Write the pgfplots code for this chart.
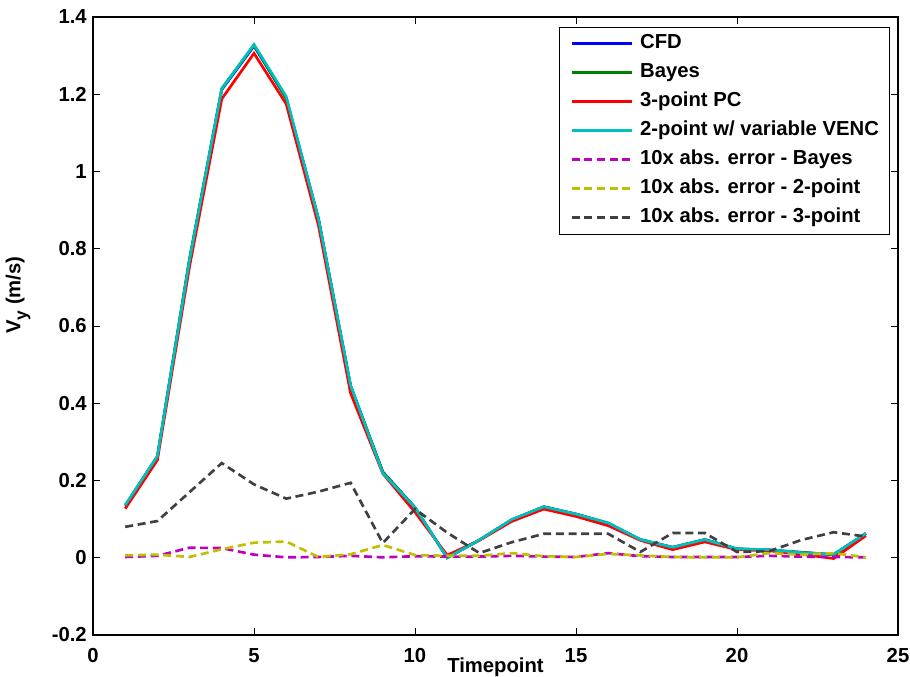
\documentclass[border=0pt]{standalone}
\usepackage{fontspec}
\setmainfont{Liberation Sans}
\usepackage{pgfplots}
\pgfplotsset{compat=1.18}
\definecolor{mblue}{rgb}{0,0,1}
\definecolor{mgreen}{rgb}{0,0.5,0}
\definecolor{mred}{rgb}{1,0,0}
\definecolor{mcyan}{rgb}{0,0.75,0.75}
\definecolor{mmag}{rgb}{0.75,0,0.75}
\definecolor{myel}{rgb}{0.75,0.75,0}
\definecolor{mgray}{rgb}{0.25,0.25,0.25}
\begin{document}
\begin{tikzpicture}
\begin{axis}[
  scale only axis,
  width=603.75pt, height=463.5pt,
  xmin=0, xmax=25, ymin=-0.2, ymax=1.4,
  xtick={0,5,10,15,20,25},
  ytick={-0.2,0,0.2,0.4,0.6,0.8,1,1.2,1.4},
  tick align=inside,
  major tick length=5.5pt,
  tick style={black, line width=0.5pt},
  axis line style={black, line width=1.2pt},
  font=\fontsize{15.2}{18}\selectfont\bfseries,
  /pgf/number format/assume math mode=true,
  xticklabel style={anchor=north, inner sep=0pt, yshift=-9.75pt},
  yticklabel style={anchor=east, inner sep=0pt, xshift=-4.5pt},
  xlabel={Timepoint},
  xlabel style={at={(axis description cs:0.5,0)}, anchor=north, inner sep=0pt, yshift=-17.25pt},
  ylabel={V\raisebox{-0.6ex}{\fontsize{13}{13}\selectfont y} (m/s)},
  ylabel style={at={(axis description cs:-0.093,0.55)}, anchor=center, rotate=0},
  legend cell align=left,
  legend style={at={(axis description cs:0.990,0.984)}, anchor=north east,
    draw=black, line width=0.6pt, inner xsep=8pt, inner ysep=5pt,
    font=\fontsize{15.2}{18}\selectfont\bfseries,
    nodes={inner sep=0pt, text height=11pt, text depth=3.5pt},
    row sep=7.25pt, column sep=5.25pt},
  legend image code/.code={\draw[#1] (0pt,0pt) -- (45pt,0pt);},
  every axis plot/.append style={line width=2pt},
]
\coordinate (SW) at (rel axis cs:0,0);
\coordinate (NE) at (rel axis cs:1,1);
% CFD
\addplot[mblue] coordinates {
(1,0.135) (2,0.262) (3,0.772) (4,1.212) (5,1.325) (6,1.190) (7,0.878) (8,0.445)
(9,0.222) (10,0.130) (11,0.000) (12,0.046) (13,0.098) (14,0.132) (15,0.113) (16,0.089)
(17,0.047) (18,0.027) (19,0.047) (20,0.023) (21,0.020) (22,0.014) (23,0.008) (24,0.063)};
% Bayes
\addplot[mgreen] coordinates {
(1,0.135) (2,0.263) (3,0.775) (4,1.215) (5,1.327) (6,1.190) (7,0.878) (8,0.445)
(9,0.222) (10,0.130) (11,0.000) (12,0.046) (13,0.098) (14,0.132) (15,0.113) (16,0.090)
(17,0.047) (18,0.027) (19,0.047) (20,0.023) (21,0.020) (22,0.014) (23,0.008) (24,0.063)};
% 3-point PC
\addplot[mred] coordinates {
(1,0.127) (2,0.253) (3,0.755) (4,1.188) (5,1.306) (6,1.175) (7,0.861) (8,0.426)
(9,0.218) (10,0.118) (11,0.0065) (12,0.045) (13,0.094) (14,0.126) (15,0.107) (16,0.083)
(17,0.045) (18,0.021) (19,0.041) (20,0.021) (21,0.018) (22,0.009) (23,-0.002) (24,0.057)};
% 2-point w/ variable VENC
\addplot[mcyan] coordinates {
(1,0.136) (2,0.263) (3,0.772) (4,1.214) (5,1.329) (6,1.194) (7,0.878) (8,0.446)
(9,0.219) (10,0.130) (11,0.000) (12,0.046) (13,0.099) (14,0.132) (15,0.113) (16,0.090)
(17,0.047) (18,0.027) (19,0.047) (20,0.023) (21,0.021) (22,0.013) (23,0.009) (24,0.063)};
% 10x abs error Bayes
\addplot[mmag, dash pattern=on 6pt off 3.5pt] coordinates {
(1,0.002) (2,0.005) (3,0.026) (4,0.025) (5,0.008) (6,0.001) (7,0.002) (8,0.005)
(9,0.001) (10,0.004) (11,0.003) (12,0.003) (13,0.005) (14,0.003) (15,0.002) (16,0.012)
(17,0.004) (18,0.002) (19,0.002) (20,0.002) (21,0.005) (22,0.003) (23,0.002) (24,0.001)};
% 10x abs error 2-point
\addplot[myel, dash pattern=on 6pt off 3.5pt] coordinates {
(1,0.006) (2,0.008) (3,0.002) (4,0.022) (5,0.039) (6,0.042) (7,0.002) (8,0.009)
(9,0.033) (10,0.007) (11,0.005) (12,0.005) (13,0.012) (14,0.004) (15,0.002) (16,0.010)
(17,0.006) (18,0.002) (19,0.001) (20,0.001) (21,0.012) (22,0.008) (23,0.012) (24,0.001)};
% 10x abs error 3-point
\addplot[mgray, dash pattern=on 6pt off 3.5pt] coordinates {
(1,0.080) (2,0.095) (3,0.170) (4,0.245) (5,0.190) (6,0.153) (7,0.171) (8,0.194)
(9,0.038) (10,0.126) (11,0.065) (12,0.012) (13,0.040) (14,0.062) (15,0.062) (16,0.062)
(17,0.015) (18,0.064) (19,0.064) (20,0.015) (21,0.017) (22,0.046) (23,0.066) (24,0.055)};
\legend{CFD, Bayes, 3-point PC, 2-point w/ variable VENC, 10x abs. error - Bayes, 10x abs. error - 2-point, 10x abs. error - 3-point}
\end{axis}
\pgfresetboundingbox
\path ([xshift=-69.75pt,yshift=-31.5pt]SW) rectangle ([xshift=9pt,yshift=12.75pt]NE);
\end{tikzpicture}
\end{document}
